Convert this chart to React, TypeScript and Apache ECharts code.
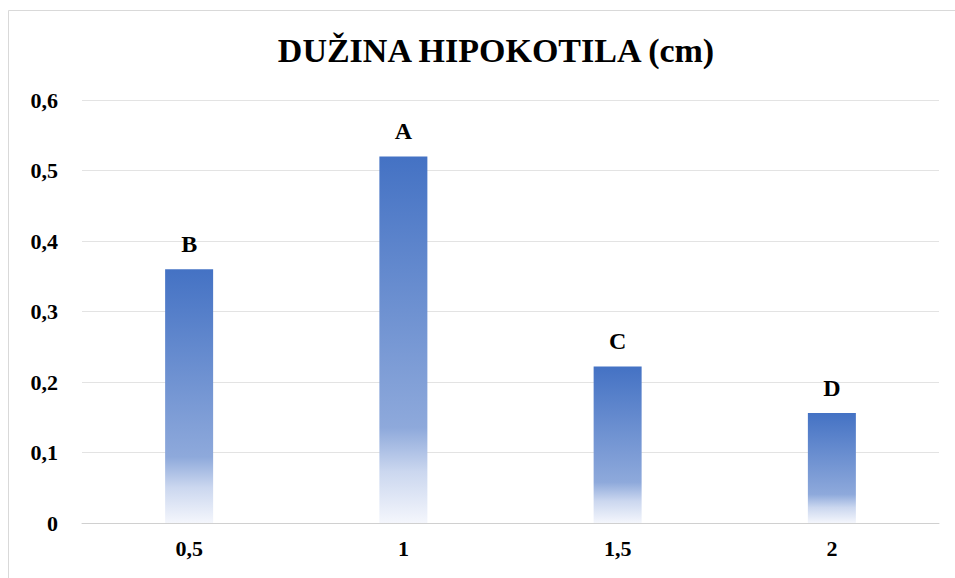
import React, { useEffect, useRef } from "react";
import * as echarts from "echarts";

const categories = ["0,5", "1", "1,5", "2"];
const values = [0.36, 0.52, 0.222, 0.156];
const letters = ["B", "A", "C", "D"];
const titleText = "DUŽINA HIPOKOTILA (cm)";

export default function App() {
  const ref = useRef<HTMLDivElement>(null);
  useEffect(() => {
    if (!ref.current) return;
    const chart = echarts.init(ref.current, undefined, { renderer: "svg" });
    const font = "'Liberation Serif', 'Times New Roman', serif";
    chart.setOption({
      animation: false,
      backgroundColor: "#ffffff",
      textStyle: { fontFamily: font },
      title: {
        text: titleText,
        left: 491,
        textAlign: "center",
        top: 28,
        textStyle: { fontFamily: font, fontWeight: "bold", fontSize: 34, color: "#000" },
      },
      graphic: [
        {
          type: "rect",
          shape: { x: 8.5, y: 10.5, width: 980, height: 600 },
          style: { fill: "none", stroke: "#d9d9d9", lineWidth: 1 },
          silent: true,
        },
      ],
      grid: { left: 82, right: 16, top: 100, bottom: 55 },
      xAxis: {
        type: "category",
        data: categories,
        axisTick: { show: false },
        axisLine: { lineStyle: { color: "#d0d0d0", width: 1 } },
        axisLabel: { fontFamily: font, fontWeight: "bold", fontSize: 22, color: "#000", margin: 14 },
      },
      yAxis: {
        type: "value",
        min: 0,
        max: 0.6,
        interval: 0.1,
        axisLine: { show: false },
        axisTick: { show: false },
        splitLine: { lineStyle: { color: "#e3e3e3", width: 1 } },
        axisLabel: {
          fontFamily: font,
          fontWeight: "bold",
          fontSize: 22,
          color: "#000",
          margin: 24,
          formatter: (v: number) => String(Math.round(v * 10) / 10).replace(".", ","),
        },
      },
      series: [
        {
          type: "bar",
          data: values,
          barWidth: 48,
          itemStyle: {
            color: new echarts.graphic.LinearGradient(0, 0, 0, 1, [
              { offset: 0, color: "#4472C4" },
              { offset: 0.74, color: "#8EA9DB" },
              { offset: 0.86, color: "#CBD7EF" },
              { offset: 1, color: "#F4F6FC" },
            ]),
          },
          label: {
            show: true,
            position: "top",
            distance: 13,
            fontFamily: font,
            fontWeight: "bold",
            fontSize: 24,
            color: "#000",
            formatter: (p: any) => letters[p.dataIndex],
          },
        },
      ],
    });
    return () => chart.dispose();
  }, []);
  return (
    <div
      ref={ref}
      style={{ position: "absolute", left: 0, top: 0, width: 955, height: 578 }}
    />
  );
}
